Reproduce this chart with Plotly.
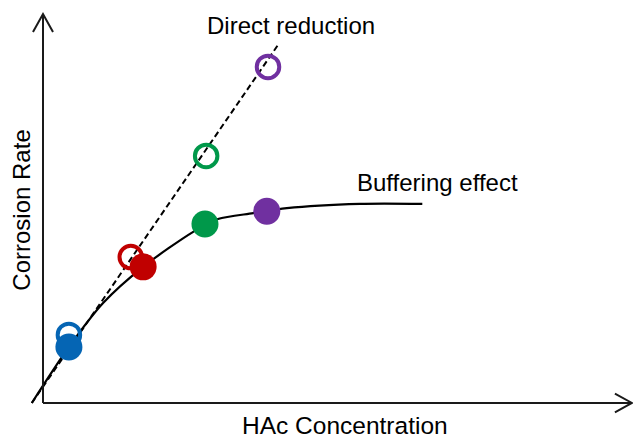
import plotly.graph_objects as go

# Data (arbitrary units)
colors = ["#0565B4", "#C00000", "#00984A", "#7030A0"]
open_x = [0.44, 1.49, 2.77, 3.82]
open_y = [1.75, 3.75, 6.35, 8.64]
fill_x = [0.44, 1.70, 2.75, 3.80]
fill_y = [1.44, 3.50, 4.60, 4.93]

# Direct-reduction (dashed) line end points
direct_x = [-0.19, 4.01]
direct_y = [0.0, 9.25]

# Buffering-effect curve points
buffer_x = [-0.19, 0.44, 1.02, 1.70, 2.55, 2.97, 3.57, 4.14, 5.38, 6.44]
buffer_y = [0.0, 1.44, 2.57, 3.50, 4.40, 4.73, 4.88, 5.01, 5.12, 5.12]

fig = go.Figure()
fig.add_trace(go.Scatter(x=direct_x, y=direct_y, mode="lines",
                         line=dict(color="black", width=2, dash="6px,3.5px"),
                         showlegend=False, hoverinfo="skip"))
fig.add_trace(go.Scatter(x=buffer_x, y=buffer_y, mode="lines",
                         line=dict(color="black", width=2.2, shape="spline", smoothing=0.8),
                         showlegend=False, hoverinfo="skip"))
fig.add_trace(go.Scatter(x=open_x, y=open_y, mode="markers",
                         marker=dict(symbol="circle-open", size=22.5, color=colors,
                                     line=dict(width=4, color=colors)),
                         showlegend=False))
fig.add_trace(go.Scatter(x=fill_x, y=fill_y, mode="markers",
                         marker=dict(symbol="circle", size=27, color=colors,
                                     line=dict(width=0)),
                         showlegend=False))

ax_col = "#1a1a1a"
shapes = [
    # axes
    dict(type="line", x0=0, y0=0, x1=10.0, y1=0),
    dict(type="line", x0=0, y0=0, x1=0, y1=10.0),
    # x arrow head
    dict(type="path", path="M 9.71,0.24 L 10.0,0 L 9.71,-0.24"),
    # y arrow head
    dict(type="path", path="M -0.17,9.54 L 0,10.0 L 0.17,9.54"),
]
for s in shapes:
    s.update(xref="x", yref="y", line=dict(color=ax_col, width=2))

font = "Liberation Sans, Arial, Helvetica, sans-serif"
annos = [
    dict(x=4.21, y=9.70, text="Direct reduction", size=24),
    dict(x=6.69, y=5.68, text="Buffering effect", size=24),
    dict(x=5.13, y=-0.57, text="HAc Concentration", size=24.5),
    dict(x=-0.38, y=4.96, text="Corrosion Rate", size=24, textangle=-90),
]
for a in annos:
    sz = a.pop("size")
    a.update(xref="x", yref="y", showarrow=False, xanchor="center", yanchor="middle",
             font=dict(family=font, size=sz, color="black"))

fig.update_layout(
    width=633, height=435,
    margin=dict(l=0, r=0, t=0, b=0),
    paper_bgcolor="white", plot_bgcolor="white",
    xaxis=dict(range=[-0.730, 10.017], visible=False, fixedrange=True),
    yaxis=dict(range=[-0.823, 10.360], visible=False, fixedrange=True),
    shapes=shapes, annotations=annos,
    font=dict(family=font),
)
fig.write_html("out.html", config={"displayModeBar": False},
               post_script="document.body.style.margin='0';document.body.style.overflow='hidden';")
